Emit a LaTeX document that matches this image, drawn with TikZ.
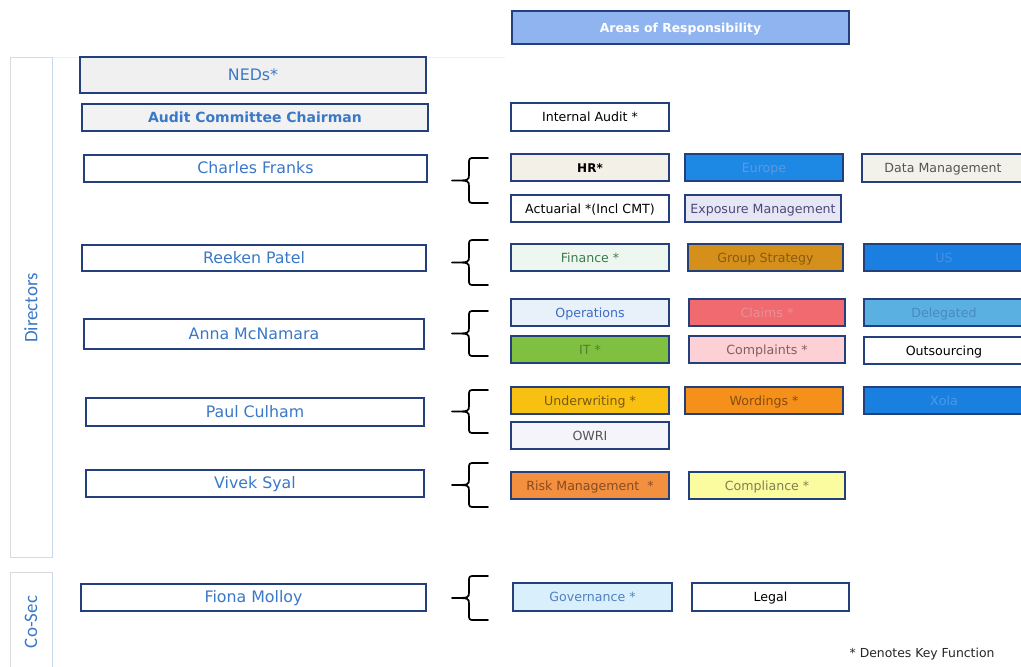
\documentclass[tikz,border=0pt]{standalone}
\usepackage{fontspec}
\setmainfont{DejaVu Sans}
\newfontfamily\sidefont{Carlito}
\definecolor{navy}{HTML}{233F7C}
\definecolor{lblue}{HTML}{3A78C8}
\definecolor{sidegray}{HTML}{DADADA}
\definecolor{sideblue}{HTML}{C8D8EE}
\definecolor{cAor}{HTML}{8FB4F0}
\definecolor{cNed}{HTML}{F0F0F0}
\definecolor{cAcc}{HTML}{F2F2F2}
\definecolor{cHr}{HTML}{F3F0E8}
\definecolor{cFinF}{HTML}{EEF7EF}\definecolor{cFinT}{HTML}{3C7A50}
\definecolor{cOpsF}{HTML}{E8F0FA}\definecolor{cOpsT}{HTML}{3C6CC8}
\definecolor{cItF}{HTML}{80C040}\definecolor{cItT}{HTML}{4E8030}
\definecolor{cUwF}{HTML}{F8C010}\definecolor{cUwT}{HTML}{7A5A10}
\definecolor{cOwF}{HTML}{F4F4FA}\definecolor{cGrT}{HTML}{555555}
\definecolor{cRmF}{HTML}{F39040}\definecolor{cRmT}{HTML}{8A4A20}
\definecolor{cGvF}{HTML}{D9F0FC}\definecolor{cGvT}{HTML}{5080C0}
\definecolor{cEuF}{HTML}{1E88E5}\definecolor{cEuT}{HTML}{5A9AE0}
\definecolor{cExF}{HTML}{E6E6F5}\definecolor{cExT}{HTML}{4A4A7A}
\definecolor{cGsF}{HTML}{D4901A}\definecolor{cGsT}{HTML}{8A5A10}
\definecolor{cClF}{HTML}{F06A70}\definecolor{cClT}{HTML}{E8909A}
\definecolor{cCpF}{HTML}{FCD0D4}\definecolor{cCpT}{HTML}{806060}
\definecolor{cWdF}{HTML}{F5901A}\definecolor{cWdT}{HTML}{8A4A10}
\definecolor{cCoF}{HTML}{FBFBA0}\definecolor{cCoT}{HTML}{808050}
\definecolor{cDmF}{HTML}{F3F2EA}
\definecolor{cUsF}{HTML}{1A7FE0}\definecolor{cUsT}{HTML}{4A90E0}
\definecolor{cDlF}{HTML}{5AB0E0}\definecolor{cDlT}{HTML}{4A8AC0}
\definecolor{cXoF}{HTML}{1A80E0}\definecolor{cXoT}{HTML}{4A9AE8}
\tikzset{
  pbox/.style={draw=navy, line width=1.6pt, fill=white, text=lblue, inner sep=0pt,
    font=\fontsize{15.8}{17}\selectfont, minimum height=27pt, text height=1.05em, text depth=0pt},
  rbox/.style={draw=navy, line width=1.6pt, fill=white, text=black, inner sep=0pt,
    font=\fontsize{12.6}{14}\selectfont, minimum width=158pt, minimum height=27pt,
    text height=0.98em, text depth=0pt},
  brace/.style={line width=1.7pt, line cap=round, line join=round},
  sidebar/.style={draw=sidegray, line width=0.8pt, fill=white},
  sidetext/.style={text=lblue, font=\sidefont\fontsize{19}{21}\selectfont, rotate=90}
}
\begin{document}
\begin{tikzpicture}[x=1pt,y=-1pt]
\useasboundingbox (0,0) rectangle (1021,667);
\clip (0,0) rectangle (1021,667);
\fill[white] (0,0) rectangle (1021,667);
% header strip
\draw[draw=black!6, line width=0.8pt] (10,57) -- (505,57);
% side bars
\draw[sidebar] (10,57) rectangle (52,557);
\draw[sideblue, line width=1pt] (52,57) -- (52,557);
\node[sidetext] (dirs) at (31,308) {Directors};
\draw[sidebar] (10,572) rectangle (52,672);
\draw[sideblue, line width=1pt] (52,572) -- (52,672);
\node[sidetext] (cosec) at (31,622) {Co-Sec};
% header
\node[rbox, fill=cAor, text=white, minimum width=337pt, minimum height=33pt,
  font=\bfseries\fontsize{12.4}{14}\selectfont] (aor) at (680.5,27.5) {Areas of Responsibility};
% people
\node[pbox, fill=cNed, minimum width=346pt, minimum height=36pt] (neds) at (253,75) {NEDs*};
\node[pbox, fill=cAcc, minimum width=346pt, font=\bfseries\fontsize{14}{15}\selectfont] (acc) at (255,117.5) {Audit Committee Chairman};
\node[pbox, minimum width=343pt] (cf) at (255.5,168.5) {Charles Franks};
\node[pbox, minimum width=344pt, minimum height=26pt] (rp) at (254,258) {Reeken Patel};
\node[pbox, minimum width=340pt, minimum height=30pt] (am) at (254,334) {Anna McNamara};
\node[pbox, minimum width=338pt, minimum height=28pt] (pc) at (255,412) {Paul Culham};
\node[pbox, minimum width=338pt] (vs) at (255,483.5) {Vivek Syal};
\node[pbox, minimum width=345pt] (fm) at (253.5,597.5) {Fiona Molloy};
% areas column 1
\node[rbox, minimum height=28pt] (ia) at (590,117) {Internal Audit *};
\node[rbox, fill=cHr, font=\bfseries\fontsize{12}{14}\selectfont] (hr) at (590,167.5) {HR*};
\node[rbox] (act) at (590,208.5) {Actuarial *(Incl CMT)};
\node[rbox, fill=cFinF, text=cFinT] (fin) at (590,257.5) {Finance *};
\node[rbox, fill=cOpsF, text=cOpsT] (ops) at (590,312.5) {Operations};
\node[rbox, fill=cItF, text=cItT] (it) at (590,349.5) {IT *};
\node[rbox, fill=cUwF, text=cUwT] (uw) at (590,400.5) {Underwriting *};
\node[rbox, fill=cOwF, text=cGrT] (owri) at (590,435.5) {OWRI};
\node[rbox, fill=cRmF, text=cRmT] (rm) at (590,485.5) {Risk Management~ *};
\node[rbox, fill=cGvF, text=cGvT, minimum width=159pt, minimum height=28pt] (gov) at (592.5,597) {Governance *};
% areas column 2
\node[rbox, fill=cEuF, text=cEuT] (eu) at (764,167.5) {Europe};
\node[rbox, fill=cExF, text=cExT, minimum width=156pt] (exp) at (763,208.5) {Exposure Management};
\node[rbox, fill=cGsF, text=cGsT, minimum width=155pt] (gs) at (765.5,257.5) {Group Strategy};
\node[rbox, fill=cClF, text=cClT, minimum width=156pt] (cl) at (767,312.5) {Claims *};
\node[rbox, fill=cCpF, text=cCpT, minimum width=156pt] (cp) at (767,349.5) {Complaints *};
\node[rbox, fill=cWdF, text=cWdT] (wd) at (764,400.5) {Wordings *};
\node[rbox, fill=cCoF, text=cCoT, minimum width=156pt] (co) at (767,485.5) {Compliance *};
\node[rbox, minimum width=157pt, minimum height=28pt] (lg) at (770.5,597) {Legal};
% areas column 3 (cut at right edge)
\node[rbox, fill=cDmF, text=cGrT, minimum width=162pt, minimum height=28pt] (dm) at (943,168) {Data Management};
\node[rbox, fill=cUsF, text=cUsT, minimum width=160pt] (us) at (944,257.5) {US};
\node[rbox, fill=cDlF, text=cDlT, minimum width=160pt] (dl) at (944,312.5) {Delegated};
\node[rbox, minimum width=160pt] (os) at (944,350.5) {Outsourcing};
\node[rbox, fill=cXoF, text=cXoT, minimum width=160pt] (xo) at (944,400.5) {Xola};
% note
\node[anchor=east, font=\fontsize{12.4}{14}\selectfont, text=black!85] (note) at (998,654) {* Denotes Key Function};
% braces
\foreach \t/\b in {158/203, 240/285, 311/356, 390/433, 463/507, 576/620}{
  \pgfmathsetmacro{\m}{(\t+\b)/2}
  \draw[brace] (488,\t) -- (475,\t) .. controls (469,\t) .. (469,\t+6) -- (469,\m-6)
    .. controls (469,\m) .. (452,\m) .. controls (469,\m) .. (469,\m+6)
    -- (469,\b-6) .. controls (469,\b) .. (475,\b) -- (488,\b);
}
\end{tikzpicture}
\end{document}
